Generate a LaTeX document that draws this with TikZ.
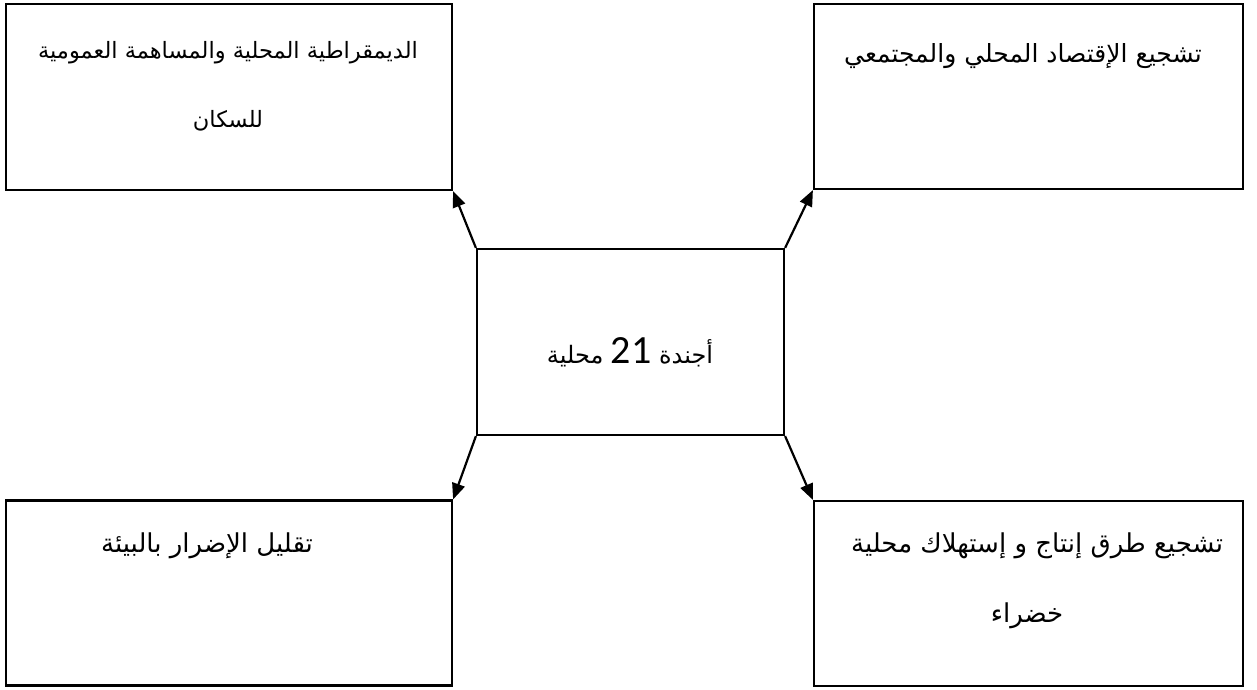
\documentclass[tikz,border=0pt]{standalone}
\usepackage{fontspec}
\usetikzlibrary{arrows.meta}
\TeXXeTstate=1
\newfontfamily\arabicfont[Script=Arabic]{DejaVu Sans}
\newfontfamily\numfont{Carlito}
\tikzset{
  box/.style={draw=black, line width=2.2pt, rectangle, inner sep=0pt},
  arr/.style={draw=black, line width=2.2pt, -{Triangle[length=16pt,width=13pt]}},
  lbl/.style={anchor=base, inner sep=0pt, font=\arabicfont\fontsize{24}{28}\selectfont},
}
\begin{document}
\begin{tikzpicture}[x=1pt,y=1pt]
\useasboundingbox (0,0) rectangle (1257,-689);
% boxes
\node[box, minimum width=446pt, minimum height=186pt] (tl) at (229,-97) {};
\node[box, minimum width=429pt, minimum height=185pt] (tr) at (1028.5,-96.5) {};
\node[box, minimum width=307pt, minimum height=186pt] (c) at (630.5,-342) {};
\node[box, minimum width=446pt, minimum height=185pt] (bl) at (229,-593) {};
\node[box, minimum width=429pt, minimum height=185pt] (br) at (1028.5,-593.5) {};
% arrows
\draw[arr] (c.north west) -- (tl.south east);
\draw[arr] (c.north east) -- (tr.south west);
\draw[arr] (c.south west) -- (bl.north east);
\draw[arr] (c.south east) -- (br.north west);
% texts
\node[lbl, font=\arabicfont\fontsize{22.5}{26}\selectfont] (tl1) at (228,-58) {\beginR الديمقراطية المحلية والمساهمة العمومية\endR};
\node[lbl, font=\arabicfont\fontsize{22.5}{26}\selectfont] (tl2) at (228,-127) {\beginR للسكان\endR};
\node[lbl, font=\arabicfont\fontsize{25}{28}\selectfont] (tr1) at (1023,-62) {\beginR تشجيع الإقتصاد المحلي والمجتمعي\endR};
\node[lbl, font=\arabicfont\fontsize{24}{28}\selectfont] (c1) at (630,-363) {\beginR أجندة {\numfont\fontsize{40}{44}\selectfont\beginL 21\endL} محلية\endR};
\node[lbl, font=\arabicfont\fontsize{26}{30}\selectfont] (bl1) at (207,-552) {\beginR تقليل الإضرار بالبيئة\endR};
\node[lbl, font=\arabicfont\fontsize{26}{30}\selectfont] (br1) at (1037,-552) {\beginR تشجيع طرق إنتاج و إستهلاك محلية\endR};
\node[lbl, font=\arabicfont\fontsize{26}{30}\selectfont] (br2) at (1027,-622) {\beginR خضراء\endR};
\end{tikzpicture}
\end{document}
